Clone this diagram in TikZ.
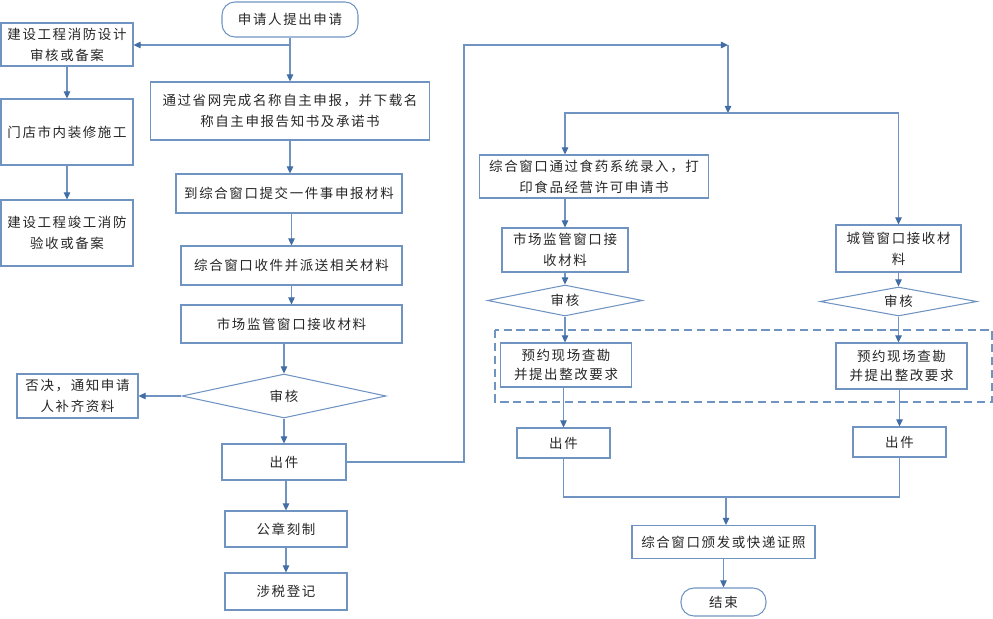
\documentclass[tikz,border=0pt]{standalone}
\usepackage{fontspec}
\setmainfont[LetterSpace=12]{Noto Sans CJK SC}
\usetikzlibrary{shapes.geometric,arrows.meta}
\definecolor{linec}{RGB}{112,148,194}
\definecolor{tipc}{RGB}{66,110,165}
\newlength\px
\setlength\px{0.03cm}
\tikzset{
  box/.style={draw=linec, line width=0.9pt, inner sep=0pt, align=center,
    text=black!85, font=\fontsize{11.5}{18}\selectfont},
  terminal/.style={box, rounded corners=13\px},
  check/.style={box, diamond, aspect=4.6},
  flow/.style={draw=linec, line width=0.9pt},
  arr/.style={flow, -{Triangle[length=6pt,width=5.5pt,color=tipc]}},
}
\begin{document}
\begin{tikzpicture}[x=0.03cm,y=-0.03cm]
\useasboundingbox (0,0) rectangle (993,618);
% left column
\node[terminal, minimum width=136\px, minimum height=35\px] (start) at (290,19.5) {申请人提出申请};
\node[box, minimum width=132\px, minimum height=43\px] (design) at (67,44.5) {建设工程消防设计\\审核或备案};
\node[box, minimum width=132\px, minimum height=66\px] (decor) at (67,132) {门店市内装修施工};
\node[box, minimum width=132\px, minimum height=66\px] (accept) at (67,233) {建设工程竣工消防\\验收或备案};
\node[box, minimum width=279\px, minimum height=58\px] (name) at (290,111) {通过省网完成名称自主申报，并下载名\\称自主申报告知书及承诺书};
\node[box, minimum width=226\px, minimum height=39\px] (submit) at (289,193.5) {到综合窗口提交一件事申报材料};
\node[box, minimum width=221\px, minimum height=39\px] (receive) at (291.5,265.5) {综合窗口收件并派送相关材料};
\node[box, minimum width=221\px, minimum height=38\px] (market) at (291.5,324) {市场监管窗口接收材料};
\node[check, minimum width=204\px, minimum height=44\px] (audit) at (284,396) {审核};
\node[box, minimum width=121\px, minimum height=44\px] (reject) at (77.5,396) {否决，通知申请\\人补齐资料};
\node[box, minimum width=124\px, minimum height=36\px] (issue) at (284,462) {出件};
\node[box, minimum width=122\px, minimum height=36\px] (seal) at (286,529) {公章刻制};
\node[box, minimum width=122\px, minimum height=37\px] (tax) at (286,591.5) {涉税登记};
% right part
\draw[flow, dash pattern=on 7pt off 4pt] (495,330) rectangle (992,402);
\node[box, minimum width=229\px, minimum height=43\px] (food) at (594,176.5) {综合窗口通过食药系统录入，打\\印食品经营许可申请书};
\node[box, minimum width=126\px, minimum height=44\px] (marketR) at (565,250) {市场监管窗口接\\收材料};
\node[box, minimum width=125\px, minimum height=47\px] (city) at (898.5,248.5) {城管窗口接收材\\料};
\node[check, minimum width=155\px, minimum height=31\px] (auditL) at (565,300.5) {审核};
\node[check, minimum width=157\px, minimum height=29\px] (auditR) at (898.5,301.5) {审核};
\node[box, minimum width=131\px, minimum height=44\px, font=\fontsize{11.5}{16}\selectfont] (visitL) at (566,365) {预约现场查勘\\并提出整改要求};
\node[box, minimum width=131\px, minimum height=46\px, font=\fontsize{11.5}{16}\selectfont] (visitR) at (901.5,366) {预约现场查勘\\并提出整改要求};
\node[box, minimum width=93\px, minimum height=30\px] (issueL) at (563.5,443) {出件};
\node[box, minimum width=93\px, minimum height=30\px] (issueR) at (899.5,442) {出件};
\node[box, minimum width=183\px, minimum height=33\px] (license) at (723.5,542) {综合窗口颁发或快递证照};
\node[terminal, minimum width=85\px, minimum height=28\px] (finish) at (723.5,602) {结束};
\coordinate (fork) at (290,45);
\coordinate (turn) at (464,45);
\coordinate (hub) at (728,45);
\coordinate (split) at (728,113);
\coordinate (merge) at (726,497);
% connectors
\draw[arr] (start) -- (name);
\draw[arr] (fork) -- (fork -| design.east);
\draw[arr] (design) -- (decor);
\draw[arr] (decor) -- (accept);
\draw[arr] (name) -- (name.south |- submit.north);
\draw[arr] (submit.south -| receive) -- (receive);
\draw[arr] (receive) -- (market);
\draw[arr] (market.south -| audit) -- (audit);
\draw[arr] (audit) -- (reject);
\draw[arr] (audit) -- (issue);
\draw[arr] (issue.south -| seal) -- (seal);
\draw[arr] (seal) -- (tax);
\draw[arr] (issue.east) -| (turn) -- (hub);
\draw[arr] (hub) -- (split);
\draw[arr] (split) -| (marketR |- food.north);
\draw[arr] (split) -| (city.north);
\draw[arr] (food.south -| marketR) -- (marketR);
\draw[arr] (marketR) -- (auditL);
\draw[arr] (auditL) -- (auditL |- visitL.north);
\draw[arr] (visitL.south -| issueL) -- (issueL);
\draw[arr] (city) -- (auditR);
\draw[arr] (auditR) -- (auditR |- visitR.north);
\draw[arr] (visitR.south -| issueR) -- (issueR);
\draw[flow] (issueL) |- (merge) -| (issueR);
\draw[arr] (merge) -- (merge |- license.north);
\draw[arr] (license) -- (finish);
\end{tikzpicture}
\end{document}
